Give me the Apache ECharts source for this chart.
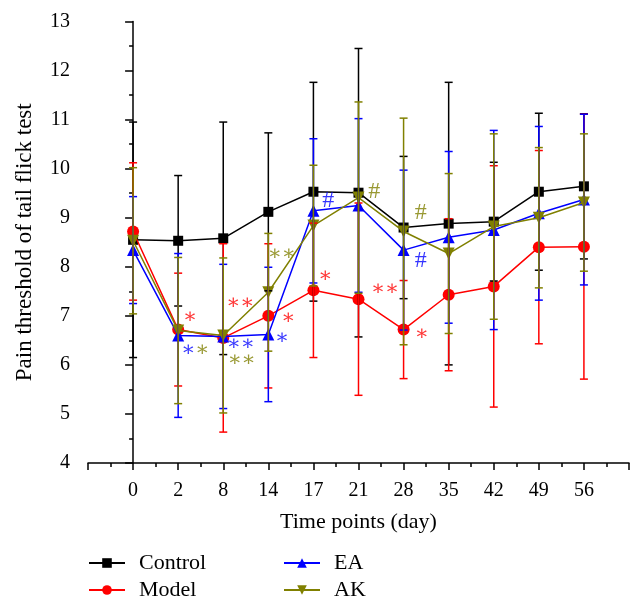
<!DOCTYPE html>
<html>
<head>
<meta charset="utf-8">
<script src="https://cdn.jsdelivr.net/npm/echarts@6/dist/echarts.min.js"></script>
<style>html,body{margin:0;padding:0;background:#fff}#c{width:644px;height:611px}</style>
</head>
<body>
<div id="c"></div>
<script>
// ---- data ----
var categories = ['0','2','8','14','17','21','28','35','42','49','56'];
var controlMean = [8.55, 8.53, 8.58, 9.12, 9.53, 9.51, 8.80, 8.88, 8.92, 9.53, 9.64];
var controlSD   = [2.40, 1.33, 2.37, 1.61, 2.23, 2.94, 1.45, 2.88, 1.21, 1.60, 1.48];
var modelMean   = [8.72, 6.72, 6.55, 7.00, 7.52, 7.34, 6.72, 7.43, 7.60, 8.40, 8.41];
var modelSD     = [1.40, 1.15, 1.92, 1.47, 1.37, 1.96, 1.00, 1.55, 2.46, 1.97, 2.70];
var eaMean      = [8.34, 6.60, 6.58, 6.62, 9.14, 9.25, 8.34, 8.60, 8.75, 9.09, 9.37];
var eaSD        = [1.09, 1.67, 1.47, 1.37, 1.47, 1.77, 1.63, 1.75, 2.03, 1.77, 1.74];
var akMean      = [8.53, 6.70, 6.60, 7.48, 8.84, 9.41, 8.72, 8.27, 8.82, 9.00, 9.31];
var akSD        = [1.49, 1.49, 1.58, 1.20, 1.23, 1.95, 2.31, 1.63, 1.89, 1.43, 1.40];
var yTicks = [4,5,6,7,8,9,10,11,12,13];
// significance marks: [x (category index units), y value, text, group]
var marks = [
  [1.26, 6.97, '∗', 'Model'],
  [1.22, 6.29, '∗', 'EA'],
  [1.53, 6.29, '∗', 'AK'],
  [2.22, 7.26, '∗', 'Model'], [2.53, 7.26, '∗', 'Model'],
  [2.23, 6.41, '∗', 'EA'], [2.54, 6.41, '∗', 'EA'],
  [2.25, 6.08, '∗', 'AK'], [2.56, 6.08, '∗', 'AK'],
  [3.14, 8.25, '∗', 'AK'], [3.45, 8.25, '∗', 'AK'],
  [3.44, 6.95, '∗', 'Model'],
  [3.30, 6.54, '∗', 'EA'],
  [4.33, 9.34, '#', 'EA'],
  [4.26, 7.81, '∗', 'Model'],
  [5.35, 9.53, '#', 'AK'],
  [5.43, 7.54, '∗', 'Model'], [5.74, 7.54, '∗', 'Model'],
  [6.38, 9.11, '#', 'AK'],
  [6.38, 8.12, '#', 'EA'],
  [6.40, 6.61, '∗', 'Model']
];

var colors = {Control:'#000000', Model:'#ff0000', EA:'#0000ff', AK:'#808000'};
var groups = [
  {name:'Control', mean:controlMean, sd:controlSD, symbol:'rect', size:10, rot:0},
  {name:'Model', mean:modelMean, sd:modelSD, symbol:'circle', size:12, rot:0},
  {name:'EA', mean:eaMean, sd:eaSD, symbol:'triangle', size:12, rot:0},
  {name:'AK', mean:akMean, sd:akSD, symbol:'triangle', size:12, rot:180}
];
var FONT = '"Liberation Serif","DejaVu Serif",serif';

function errRender(color){
  return function(params, api){
    var x = api.value(0), y = api.value(1), e = api.value(2);
    var t = api.coord([x, y + e]), b = api.coord([x, y - e]);
    var hw = 4;
    var st = {stroke: color, lineWidth: 1.5};
    return {type:'group', children:[
      {type:'line', shape:{x1:t[0], y1:t[1], x2:b[0], y2:b[1]}, style:st},
      {type:'line', shape:{x1:t[0]-hw, y1:t[1], x2:t[0]+hw, y2:t[1]}, style:st},
      {type:'line', shape:{x1:b[0]-hw, y1:b[1], x2:b[0]+hw, y2:b[1]}, style:st}
    ]};
  };
}

var series = [];
groups.forEach(function(g, gi){
  series.push({
    name: g.name, type:'line',
    data: g.mean.map(function(v,i){ return [i, v]; }),
    symbol: g.symbol, symbolSize: g.size, symbolRotate: g.rot,
    itemStyle:{color: colors[g.name]},
    lineStyle:{color: colors[g.name], width:1.5},
    z: 2 + gi, animation:false
  });
});
groups.forEach(function(g, gi){
  series.push({
    name: g.name + ' SD', type:'custom',
    renderItem: errRender(colors[g.name]),
    data: g.mean.map(function(v,i){ return [i, v, g.sd[i]]; }),
    z: 10 + gi, silent:true, animation:false, legendHoverLink:false
  });
});
series.push({
  type:'scatter', symbolSize:0, z:20, animation:false, silent:true,
  data: marks.map(function(m){
    var isHash = m[2] === '#';
    return {value:[m[0], m[1]], label:{show:true, position:'inside', formatter:m[2],
      color: colors[m[3]], fontFamily: isHash ? FONT : '"DejaVu Serif",serif',
      fontSize: isHash ? 24 : 21}};
  })
});

var chart = echarts.init(document.getElementById('c'), null, {renderer:'canvas'});
chart.setOption({
  animation:false,
  backgroundColor:'#fff',
  grid:{left:88, right:15, top:21.5, bottom:148, containLabel:false},
  xAxis:{
    type:'value', min:-1, max:11, interval:1,
    name:'Time points (day)', nameLocation:'middle', nameGap:48,
    nameTextStyle:{fontFamily:FONT, fontSize:22, color:'#000'},
    axisLine:{show:true, lineStyle:{color:'#000', width:1.5}},
    axisTick:{show:true, inside:false, length:7, lineStyle:{color:'#000', width:1.5}},
    minorTick:{show:true, splitNumber:2, length:4, lineStyle:{color:'#000', width:1.5}},
    splitLine:{show:false},
    axisLabel:{margin:18, fontFamily:FONT, fontSize:20, color:'#000',
      formatter:function(v){ return categories[v] !== undefined ? categories[v] : ''; }}
  },
  yAxis:{
    type:'value', min:yTicks[0], max:yTicks[yTicks.length-1], interval:1,
    name:'Pain threshold of tail flick test', nameLocation:'middle', nameGap:52, nameRotate:90,
    nameTextStyle:{fontFamily:FONT, fontSize:23, color:'#000'},
    axisLine:{show:true, lineStyle:{color:'#000', width:1.5}},
    axisTick:{show:true, inside:false, length:8, lineStyle:{color:'#000', width:1.5}},
    minorTick:{show:true, splitNumber:2, length:4, lineStyle:{color:'#000', width:1.5}},
    splitLine:{show:false},
    axisLabel:{margin:18, fontFamily:FONT, fontSize:20, color:'#000'}
  },
  legend:[
    {data:['Control','Model'], left:88, top:552, padding:0, orient:'vertical', itemGap:5,
     itemWidth:36, itemHeight:12, selectedMode:false,
     textStyle:{fontFamily:FONT, fontSize:22, color:'#000', lineHeight:22, padding:[0,0,0,9]}},
    {data:['EA','AK'], left:283, top:552, padding:0, orient:'vertical', itemGap:5,
     itemWidth:36, itemHeight:12, selectedMode:false,
     textStyle:{fontFamily:FONT, fontSize:22, color:'#000', lineHeight:22, padding:[0,0,0,9]}}
  ],
  series: series
});
</script>
</body>
</html>
